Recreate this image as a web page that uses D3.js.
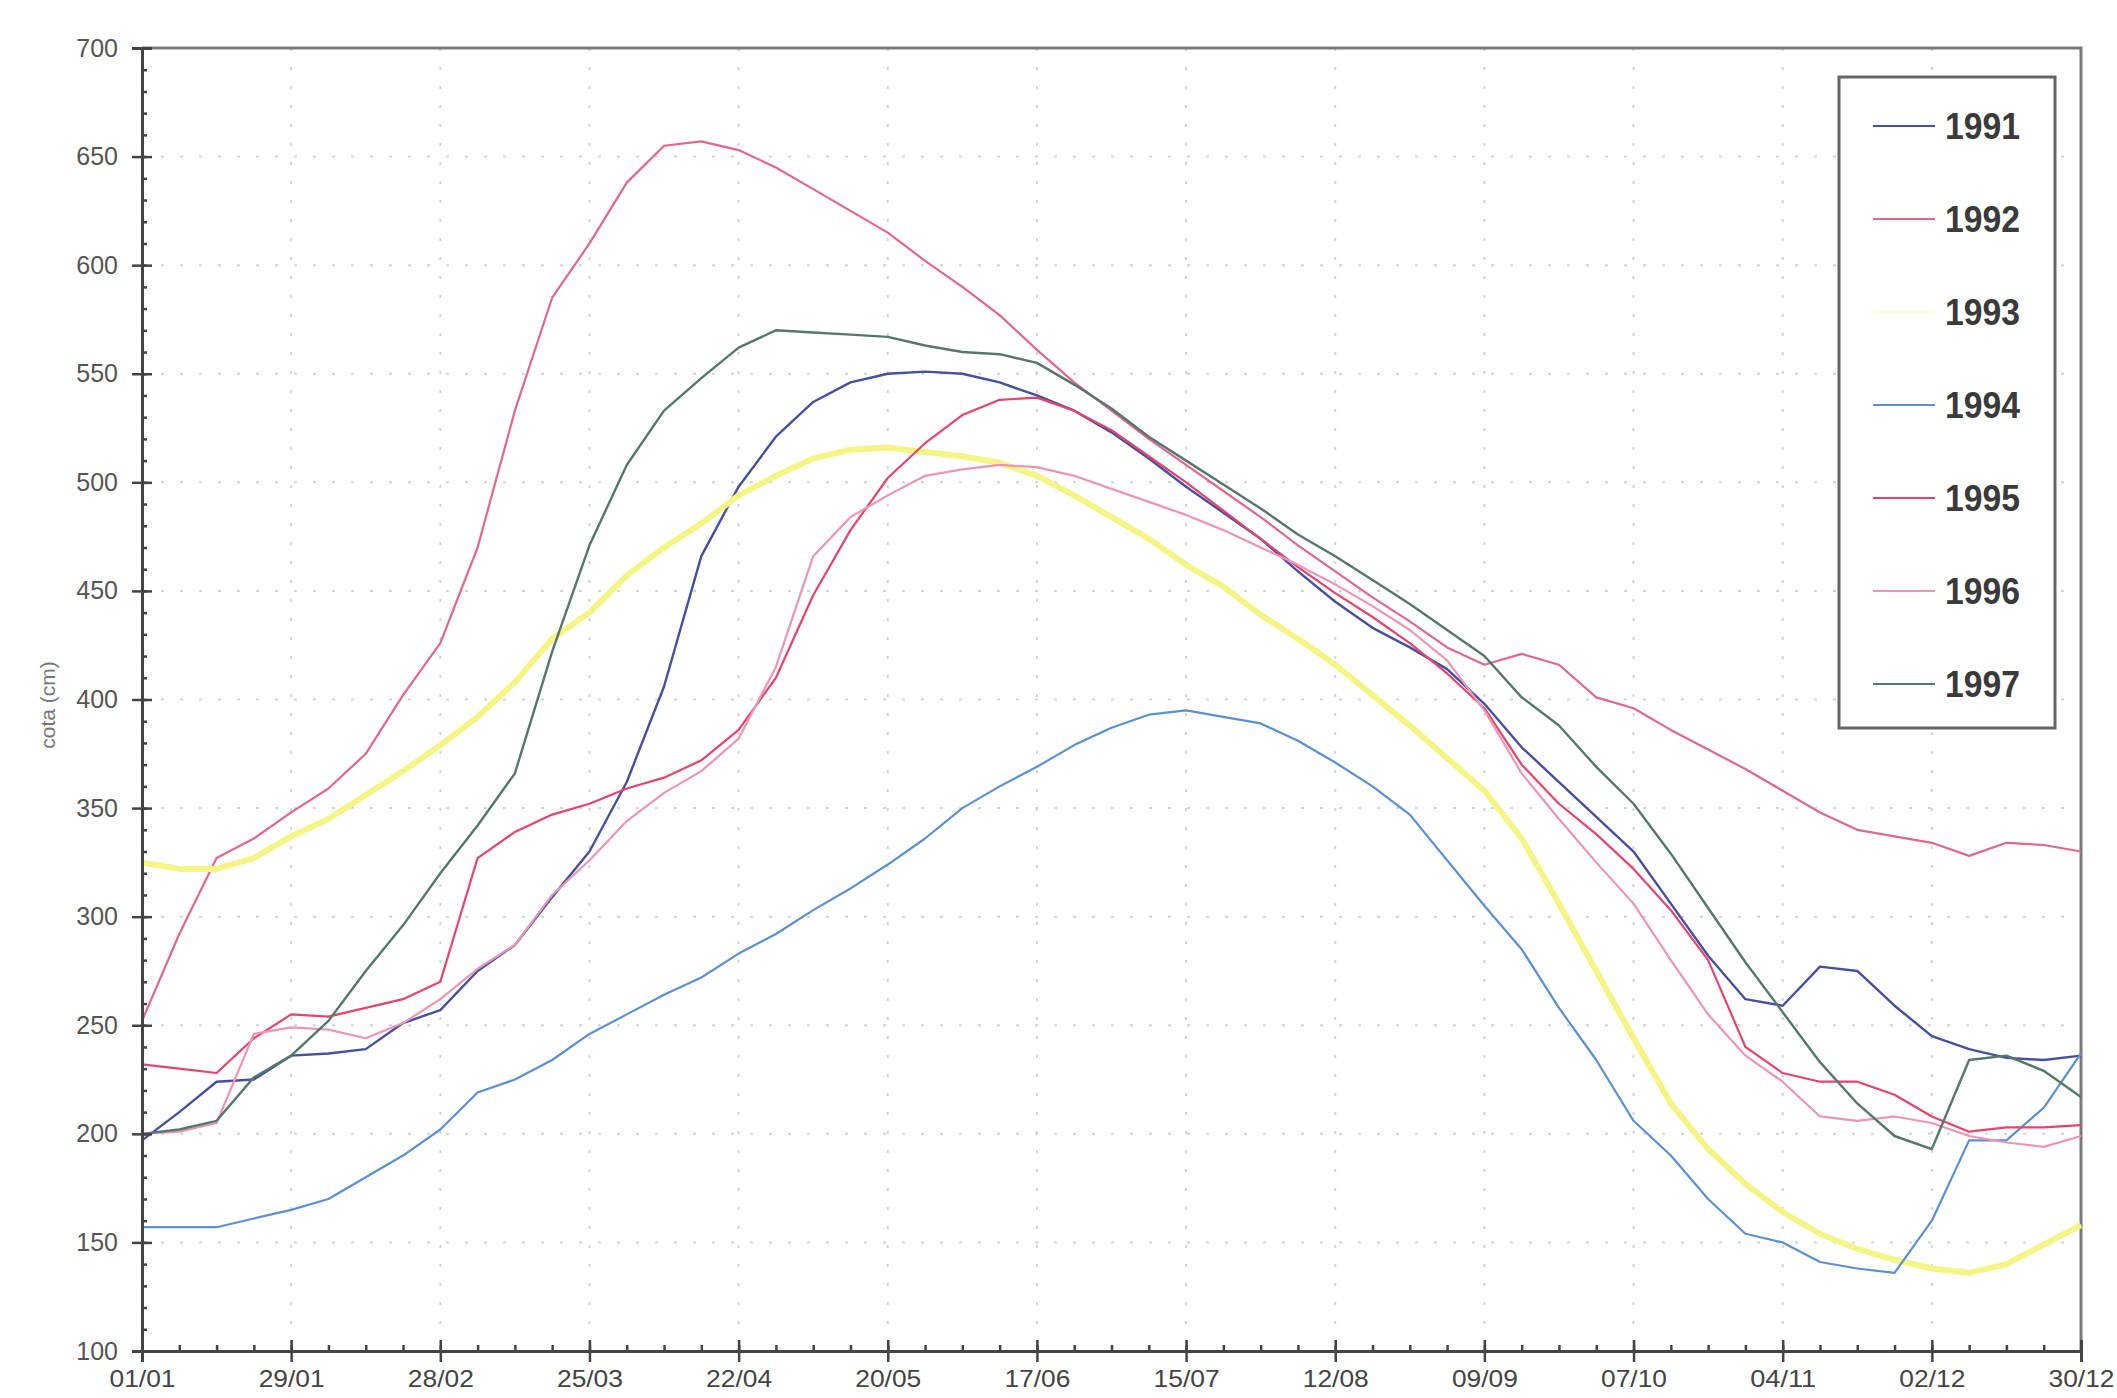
<!DOCTYPE html>
<html>
<head>
<meta charset="utf-8">
<script src="https://cdn.jsdelivr.net/npm/d3@7"></script>
<style>
  body { margin: 0; background: #fff; }
  svg { display: block; }
  text { font-family: "Liberation Sans", Arial, sans-serif; }
</style>
</head>
<body>
<script>
// day index from 01/01, one reading per week
const days = d3.range(0, 365, 7)

const tickLabels = ['01/01', '29/01', '28/02', '25/03', '22/04', '20/05', '17/06',
  '15/07', '12/08', '09/09', '07/10', '04/11', '02/12', '30/12']

const years = ['1991', '1992', '1993', '1994', '1995', '1996', '1997']

const y1991 = [197,210,224,225,236,237,239,251,257,275,287,309,330,362,406,466,498,521,537,546,550,551,550,546,540,533,523,511,498,486,474,459,445,433,424,414,398,378,362,346,330,306,282,262,259,277,275,259,245,239,235,234,236]
const y1992 = [252,292,327,336,348,359,375,402,426,470,533,585,610,638,655,657,653,645,635,625,615,602,590,577,561,546,533,520,508,496,484,471,459,447,436,424,416,421,416,401,396,386,377,368,358,348,340,337,334,328,334,333,330]
const y1993 = [325,322,322,327,337,345,356,367,379,392,408,428,440,457,470,481,494,503,511,515,516,514,512,509,503,494,484,474,462,452,439,428,416,402,388,373,358,336,306,275,244,214,193,177,164,154,147,142,138,136,140,149,158]
const y1994 = [157,157,157,161,165,170,180,190,202,219,225,234,246,255,264,272,283,292,303,313,324,336,350,360,369,379,387,393,395,392,389,381,371,360,347,326,305,285,258,234,206,190,170,154,150,141,138,136,160,197,197,212,237]
const y1995 = [232,230,228,244,255,254,258,262,270,327,339,347,352,359,364,372,386,410,448,478,502,518,531,538,539,533,524,512,500,487,474,461,449,438,426,412,396,370,352,338,322,303,280,240,228,224,224,218,208,201,203,203,204]
const y1996 = [200,201,205,246,249,248,244,251,262,276,287,310,326,344,357,367,382,415,466,484,494,503,506,508,507,503,497,491,485,478,470,462,453,443,432,418,395,366,345,325,306,280,255,236,224,208,206,208,205,199,196,194,199]
const y1997 = [200,202,206,226,236,252,275,296,320,342,366,422,471,508,533,548,562,570,569,568,567,563,560,559,555,545,534,521,510,499,488,476,466,455,444,432,420,401,388,369,352,329,304,279,256,233,214,199,193,234,236,229,217]

const colors = ['#4650a0', '#e2678a', '#f5f586', '#5c90d4', '#e8436c', '#ee94b6', '#56786a']
const widths = [2.4, 2.2, 6, 2.2, 2.2, 2.2, 2.4]
const values = [y1991, y1992, y1993, y1994, y1995, y1996, y1997]

const W = 2117, H = 1398
const mLeft = 142, mRight = 2081, mTop = 48, mBottom = 1351

const svg = d3.select('body').append('svg')
  .attr('width', W)
  .attr('height', H)

const x = d3.scaleLinear().domain([0, 364]).range([mLeft, mRight])
const y = d3.scaleLinear().domain([100, 700]).range([mBottom, mTop])

const majorX = d3.range(0, 365, 28)
const minorX = d3.range(0, 365, 7)
const majorY = d3.range(100, 701, 50)
const minorY = d3.range(100, 701, 10)

// faint dotted grid
svg.append('g').selectAll('line')
  .data(majorY.slice(1, -1))
  .enter().append('line')
    .attr('x1', mLeft).attr('x2', mRight)
    .attr('y1', d => y(d)).attr('y2', d => y(d))
    .attr('stroke', '#d4d4d4').attr('stroke-width', 2)
    .attr('stroke-dasharray', '3,16')
svg.append('g').selectAll('line')
  .data(majorX.slice(1, -1))
  .enter().append('line')
    .attr('x1', d => x(d)).attr('x2', d => x(d))
    .attr('y1', mTop).attr('y2', mBottom)
    .attr('stroke', '#d4d4d4').attr('stroke-width', 2)
    .attr('stroke-dasharray', '3,16')

// frame (top and right)
svg.append('path')
  .attr('d', `M${mLeft},${mTop}H${mRight}V${mBottom}`)
  .attr('fill', 'none').attr('stroke', '#7a7a7a').attr('stroke-width', 3)

// series
const line = d3.line()
  .x((d, i) => x(days[i]))
  .y(d => y(d))

svg.append('g').selectAll('path')
  .data(values)
  .enter().append('path')
    .attr('d', line)
    .attr('fill', 'none')
    .attr('stroke', (d, i) => colors[i])
    .attr('stroke-width', (d, i) => widths[i])
    .attr('stroke-linejoin', 'round')

// y axis
const yAx = svg.append('g').attr('transform', `translate(${mLeft},0)`)
yAx.call(d3.axisLeft(y).tickValues(majorY).tickSize(10).tickPadding(14))
yAx.append('g').call(d3.axisRight(y).tickValues(majorY).tickSize(10).tickFormat(''))
yAx.append('g').call(d3.axisRight(y).tickValues(minorY).tickSize(5).tickFormat(''))
yAx.selectAll('path.domain').attr('stroke', '#444').attr('stroke-width', 3)
yAx.selectAll('.tick line').attr('stroke', '#444').attr('stroke-width', 2.5)
yAx.selectAll('text').attr('font-size', 25).attr('fill', '#555')
  .attr('font-family', '"Liberation Sans", Arial, sans-serif')

// x axis
const xAx = svg.append('g').attr('transform', `translate(0,${mBottom})`)
xAx.call(d3.axisBottom(x).tickValues(majorX).tickSize(11).tickPadding(24)
  .tickFormat((d, i) => tickLabels[i]))
xAx.append('g').call(d3.axisTop(x).tickValues(majorX).tickSize(11).tickFormat(''))
xAx.append('g').call(d3.axisTop(x).tickValues(minorX).tickSize(6).tickFormat(''))
xAx.selectAll('path.domain').attr('stroke', '#444').attr('stroke-width', 3)
xAx.selectAll('.tick line').attr('stroke', '#444').attr('stroke-width', 2.5)
xAx.selectAll('text').attr('font-size', 24).attr('fill', '#444')
  .attr('font-family', '"Liberation Sans", Arial, sans-serif')
  .attr('textLength', 66).attr('lengthAdjust', 'spacingAndGlyphs')
  .attr('dy', null).attr('y', 36)

// y title
svg.append('text')
  .attr('transform', 'translate(47,705) rotate(-90)')
  .attr('text-anchor', 'middle')
  .attr('dominant-baseline', 'central')
  .attr('font-size', 21)
  .attr('fill', '#777')
  .text('cota (cm)')

// legend
const lg = svg.append('g')
lg.append('rect')
  .attr('x', 1839).attr('y', 77).attr('width', 216).attr('height', 651)
  .attr('fill', '#fff').attr('stroke', '#666').attr('stroke-width', 3)

const ly = d3.scalePoint().domain(years).range([126, 684])
const items = lg.selectAll('g.item')
  .data(years)
  .enter().append('g')
    .attr('transform', d => `translate(0,${ly(d)})`)
items.append('line')
  .attr('x1', 1873).attr('x2', 1935)
  .attr('stroke', (d, i) => i === 2 ? '#fbfbd2' : colors[i])
  .attr('stroke-width', 2)
items.append('text')
  .attr('x', 1945)
  .attr('dominant-baseline', 'central')
  .attr('font-size', 36)
  .attr('font-weight', 'bold')
  .attr('fill', '#3a3a3a')
  .attr('textLength', 75).attr('lengthAdjust', 'spacingAndGlyphs')
  .text(d => d)
</script>
</body>
</html>
